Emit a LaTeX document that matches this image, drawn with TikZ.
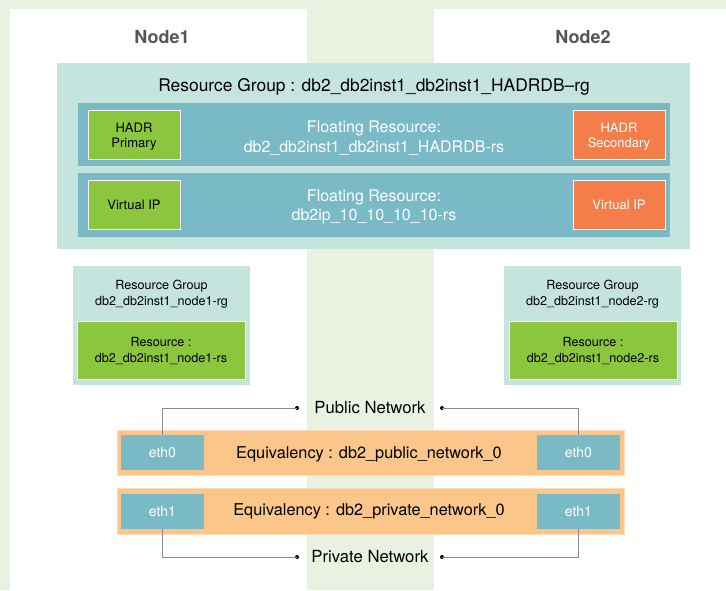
\documentclass[tikz,border=0pt]{standalone}
\usepackage{fontspec}
\setmainfont{TeX Gyre Heros}
\definecolor{bgg}{HTML}{E9F2E1}
\definecolor{rgc}{HTML}{C6E4DE}
\definecolor{flc}{HTML}{79BAC6}
\definecolor{grc}{HTML}{8CC63F}
\definecolor{orc}{HTML}{F47D4A}
\definecolor{eqc}{HTML}{FAC68A}
\definecolor{eqb}{HTML}{FDDDB8}
\definecolor{lnc}{HTML}{8A8A8A}
\definecolor{ttc}{HTML}{555555}
\begin{document}
\begin{tikzpicture}[x=1pt,y=-1pt,
  box/.style={rectangle,inner sep=0pt,outer sep=0pt,anchor=north west},
  rgbox/.style={box,fill=rgc},
  flbox/.style={box,fill=flc},
  grbox/.style={box,fill=grc,draw=white,line width=1pt},
  orbox/.style={box,fill=orc,draw=white,line width=1pt},
  eqbox/.style={box,fill=eqc,draw=eqb,line width=0.8pt},
  ethbox/.style={box,fill=flc,text=white,font=\fontsize{14}{16}\selectfont},
  lbl/.style={inner sep=0pt,align=center},
  smallf/.style={font=\fontsize{13}{15}\selectfont},
  rgf/.style={font=\fontsize{12.6}{16.5}\selectfont},
  bigf/.style={font=\fontsize{16.3}{18}\selectfont},
  wire/.style={draw=lnc,line width=0.8pt},
  dot/.style={circle,fill=black,inner sep=0pt,minimum size=4pt}
]
\useasboundingbox (0,0) rectangle (726,590);
\fill[bgg] (0,0) rectangle (726,590);
\fill[white] (10,9) rectangle (307,590);
\fill[white] (434,9) rectangle (726,590);

\node[lbl,text=ttc,font=\fontsize{18}{20}\selectfont\bfseries] (n1) at (162,37) {Node1};
\node[lbl,text=ttc,font=\fontsize{18}{20}\selectfont\bfseries] (n2) at (583,37) {Node2};

% big resource group
\node[rgbox,minimum width=633pt,minimum height=186pt] (rg) at (57,63) {};
\node[lbl,font=\fontsize{17.4}{19}\selectfont] (rgt) at (374,87) {Resource Group : db2\_db2inst1\_db2inst1\_HADRDB--rg};

\node[flbox,minimum width=592pt,minimum height=63pt] (fl1) at (78,103) {};
\node[lbl,text=white,font=\fontsize{16}{19.5}\selectfont] (fl1t) at (374,138) {Floating Resource:\\db2\_db2inst1\_db2inst1\_HADRDB-rs};
\node[flbox,minimum width=592pt,minimum height=64pt] (fl2) at (78,173) {};
\node[lbl,text=white,font=\fontsize{16}{19.5}\selectfont] (fl2t) at (374,207) {Floating Resource:\\db2ip\_10\_10\_10\_10-rs};

\node[grbox,minimum width=92pt,minimum height=49pt] (hp) at (88,110) {};
\node[lbl,smallf] (hpt) at (134,137) {HADR\\Primary};
\node[grbox,minimum width=92pt,minimum height=49pt,smallf] (vip1) at (88,180) {Virtual IP};
\node[orbox,minimum width=92pt,minimum height=49pt] (hs) at (573,110) {};
\node[lbl,smallf,text=white] (hst) at (619,137) {HADR\\Secondary};
\node[orbox,minimum width=92pt,minimum height=49pt,text=white,smallf] (vip2) at (573,180) {Virtual IP};

% node resource groups
\node[rgbox,minimum width=177pt,minimum height=119pt] (rg1) at (73,266) {};
\node[lbl,rgf] (rg1t) at (161.5,294) {Resource Group\\db2\_db2inst1\_node1-rg};
\node[grbox,minimum width=168pt,minimum height=58pt] (rs1) at (77,321) {};
\node[lbl,rgf] (rs1t) at (161,351) {Resource :\\db2\_db2inst1\_node1-rs};
\node[rgbox,minimum width=177pt,minimum height=119pt] (rg2) at (504,266) {};
\node[lbl,rgf] (rg2t) at (592.5,294) {Resource Group\\db2\_db2inst1\_node2-rg};
\node[grbox,minimum width=168pt,minimum height=58pt] (rs2) at (509,321) {};
\node[lbl,rgf] (rs2t) at (593,351) {Resource :\\db2\_db2inst1\_node2-rs};

% equivalencies
\node[eqbox,minimum width=507pt,minimum height=45pt] (eq1) at (117,430) {};
\node[lbl,bigf] (eq1t) at (369,454) {Equivalency : db2\_public\_network\_0};
\node[ethbox,minimum width=83pt,minimum height=35pt] (e0a) at (121,435) {eth0};
\node[ethbox,minimum width=83pt,minimum height=35pt] (e0b) at (537,435) {eth0};

\node[eqbox,minimum width=507pt,minimum height=46pt] (eq2) at (117,488) {};
\node[lbl,bigf] (eq2t) at (369,511) {Equivalency : db2\_private\_network\_0};
\node[ethbox,minimum width=83pt,minimum height=35pt] (e1a) at (121,494) {eth1};
\node[ethbox,minimum width=83pt,minimum height=35pt] (e1b) at (537,494) {eth1};

% networks
\node[lbl,font=\fontsize{16.7}{18}\selectfont] (pub) at (370,408) {Public Network};
\node[lbl,font=\fontsize{16.7}{18}\selectfont] (priv) at (370,557) {Private Network};
\node[dot] (pl) at (297,408) {};
\node[dot] (pr) at (442,408) {};
\node[dot] (vl) at (297,557) {};
\node[dot] (vr) at (442,557) {};

\draw[wire] (pl.center) -| (e0a.north);
\draw[wire] (pr.center) -| (e0b.north);
\draw[wire] (vl.center) -| (e1a.south);
\draw[wire] (vr.center) -| (e1b.south);
\end{tikzpicture}
\end{document}
